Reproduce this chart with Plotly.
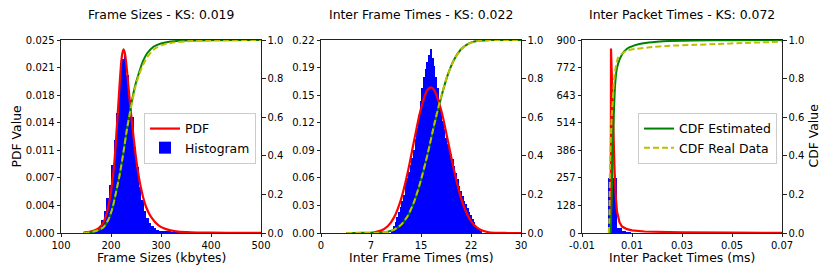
import plotly.graph_objects as go

# ---------------- data ----------------
# Panel 1: Frame Sizes (kbytes)
fs_hist_x = [147.5, 152.5, 157.5, 162.5, 167.5, 172.5, 177.5, 182.5, 187.5, 192.5,
             197.5, 202.5, 207.5, 212.5, 217.5, 222.5, 227.5, 232.5, 237.5, 242.5,
             247.5, 252.5, 257.5, 262.5, 267.5, 272.5, 277.5, 282.5, 287.5, 292.5,
             297.5, 302.5, 307.5, 312.5, 317.5, 322.5, 327.5, 332.5, 337.5, 342.5,
             347.5, 352.5, 357.5, 362.5, 367.5, 372.5, 377.5, 382.5, 387.5, 392.5]
fs_hist_y = [0.00005, 0.0001, 0.00015, 0.0002, 0.0003, 0.0005, 0.0009, 0.0017, 0.0028, 0.0045,
             0.0062, 0.0088, 0.0120, 0.0155, 0.0198, 0.0226, 0.0230, 0.0205, 0.0172, 0.0150,
             0.0112, 0.0085, 0.0060, 0.0043, 0.0029, 0.0019, 0.0013, 0.0009, 0.0006, 0.0004,
             0.0003, 0.0002, 0.0002, 0.00015, 0.00015, 0.0001, 0.0001, 0.0001, 0.00008, 0.0001,
             0.00008, 0.00006, 0.00006, 0.00005, 0.00005, 0.00004, 0.00004, 0.00003, 0.00003, 0.00002]
fs_pdf_x = [145, 160, 175, 185, 195, 205, 212, 218, 222, 225, 228, 232, 238, 245, 252,
            260, 270, 280, 295, 310, 330, 360, 400, 450, 500]
fs_pdf_y = [0.00005, 0.0002, 0.0006, 0.0014, 0.0035, 0.0080, 0.0140, 0.0200, 0.0230, 0.0238,
            0.0232, 0.0210, 0.0168, 0.0125, 0.0088, 0.0058, 0.0034, 0.0021, 0.0010, 0.0005,
            0.0002, 0.0001, 0.00005, 0.00002, 0.00001]
fs_cdf_x = [145, 170, 185, 195, 203, 210, 218, 225, 232, 240, 248, 256, 264, 272, 285,
            300, 320, 350, 400, 500]
fs_cdf_est = [0.0, 0.01, 0.03, 0.07, 0.13, 0.21, 0.31, 0.42, 0.54, 0.66, 0.76, 0.83, 0.89,
              0.93, 0.965, 0.982, 0.992, 0.997, 0.999, 1.0]
fs_cdf_real = [0.0, 0.01, 0.03, 0.07, 0.13, 0.21, 0.31, 0.42, 0.54, 0.65, 0.75, 0.82, 0.87,
               0.91, 0.95, 0.972, 0.985, 0.993, 0.998, 1.0]

# Panel 2: Inter Frame Times (ms)
ift_hist_x = [10.75, 11.0, 11.25, 11.5, 11.75, 12.0, 12.25, 12.5, 12.75, 13.0,
              13.25, 13.5, 13.75, 14.0, 14.25, 14.5, 14.75, 15.0, 15.25, 15.5,
              15.75, 16.0, 16.25, 16.5, 16.75, 17.0, 17.25, 17.5, 17.75, 18.0,
              18.25, 18.5, 18.75, 19.0, 19.25, 19.5, 19.75, 20.0, 20.25, 20.5,
              20.75, 21.0, 21.25, 21.5, 21.75, 22.0, 22.25, 22.5, 22.75, 23.0,
              23.25, 23.5, 23.75, 24.0]
ift_hist_y = [0.003, 0.008, 0.013, 0.018, 0.024, 0.030, 0.036, 0.043, 0.055, 0.063,
              0.070, 0.077, 0.086, 0.095, 0.107, 0.120, 0.135, 0.150, 0.165, 0.178,
              0.187, 0.195, 0.203, 0.210, 0.200, 0.190, 0.178, 0.165, 0.152, 0.140,
              0.128, 0.118, 0.108, 0.101, 0.095, 0.090, 0.084, 0.076, 0.068, 0.061,
              0.054, 0.048, 0.042, 0.037, 0.033, 0.029, 0.024, 0.020, 0.016, 0.012,
              0.008, 0.006, 0.004, 0.002]
ift_pdf_x = [3.8, 6, 8, 9, 10, 11, 12, 13, 14, 15, 16, 16.55, 17, 18, 19, 20, 21, 22,
             23, 24, 25, 26, 28, 30]
ift_pdf_y = [0.0, 0.00005, 0.00085, 0.0027, 0.0076, 0.0184, 0.0384, 0.0689, 0.1065, 0.142,
             0.1635, 0.166, 0.1626, 0.1408, 0.1063, 0.070, 0.040, 0.020, 0.0088, 0.0033,
             0.0011, 0.0003, 0.00002, 0.0]
ift_cdf_x = [3.8, 6, 8, 9, 10, 11, 12, 13, 14, 15, 16, 17, 18, 19, 20, 21, 22, 23, 24,
             25, 26, 28, 30]
ift_cdf_est = [0.0, 0.00003, 0.0006, 0.002, 0.0064, 0.017, 0.041, 0.087, 0.163, 0.273,
               0.41, 0.56, 0.70, 0.818, 0.90, 0.952, 0.979, 0.992, 0.997, 0.999, 1.0, 1.0, 1.0]
ift_cdf_real = [0.0, 0.00003, 0.0006, 0.002, 0.0066, 0.018, 0.042, 0.088, 0.165, 0.275,
                0.41, 0.565, 0.705, 0.82, 0.90, 0.951, 0.978, 0.991, 0.997, 0.999, 1.0, 1.0, 1.0]

# Panel 3: Inter Packet Times (ms)
ipt_hist_x = [0.0014, 0.0032, 0.0050, 0.0068, 0.0086]
ipt_hist_y = [258, 258, 22, 8, 3]
ipt_bin_w = 0.0018
ipt_pdf_x = [0.0015, 0.0016, 0.0020, 0.0025, 0.0030, 0.0035, 0.0040, 0.0050, 0.0060,
             0.0080, 0.0100, 0.0150, 0.0200, 0.0300, 0.0500, 0.0700]
ipt_pdf_y = [0, 860, 700, 470, 300, 170, 100, 50, 30, 18, 12, 7, 5, 3, 1.5, 1]
ipt_est_x = [0.0012, 0.0015, 0.0019, 0.0022, 0.0025, 0.0028, 0.0032, 0.0038, 0.0045,
             0.0060, 0.0080, 0.0110, 0.0145, 0.0200, 0.0250, 0.0350, 0.0500, 0.0700]
ipt_est_y = [0.0, 0.05, 0.17, 0.35, 0.52, 0.64, 0.76, 0.84, 0.88, 0.925, 0.955, 0.972,
             0.983, 0.991, 0.995, 0.998, 0.999, 1.0]
ipt_real_x = [0.0007, 0.0009, 0.0012, 0.0016, 0.0020, 0.0023, 0.0027, 0.0032, 0.0038,
              0.0045, 0.0060, 0.0080, 0.0120, 0.0170, 0.0250, 0.0350, 0.0440, 0.0550, 0.0700]
ipt_real_y = [0.0, 0.05, 0.34, 0.52, 0.63, 0.68, 0.77, 0.836, 0.88, 0.91, 0.93, 0.945,
              0.955, 0.962, 0.97, 0.975, 0.979, 0.985, 0.991]

titles = ["Frame Sizes - KS: 0.019", "Inter Frame Times - KS: 0.022", "Inter Packet Times - KS: 0.072"]
xlabels = ["Frame Sizes (kbytes)", "Inter Frame Times (ms)", "Inter Packet Times (ms)"]
x_tickvals = [[100, 200, 300, 400, 500], [0, 7.5, 15, 22.5, 30], [-0.01, 0.01, 0.03, 0.05, 0.07]]
x_ticktext = [["100", "200", "300", "400", "500"], ["0", "7", "15", "22", "30"],
              ["-0.01", "0.01", "0.03", "0.05", "0.07"]]
x_ranges = [[100, 500], [0, 30], [-0.01, 0.07]]
y_max = [0.025, 0.22, 900]
y_ticktext = [["0.000", "0.004", "0.007", "0.011", "0.014", "0.018", "0.021", "0.025"],
              ["0.00", "0.03", "0.06", "0.09", "0.12", "0.15", "0.19", "0.22"],
              ["0", "128", "257", "386", "514", "643", "772", "900"]]
cdf_ticks = [0, 0.2, 0.4, 0.6, 0.8, 1.0]
cdf_ticktext = ["0.0", "0.2", "0.4", "0.6", "0.8", "1.0"]

# ---------------- layout geometry ----------------
W, H = 830, 277
x_px = [(61, 261), (321, 521), (582, 782)]
y_top, y_bot = 40, 233
ydom = [1 - y_bot / H, 1 - y_top / H]

FONT = "DejaVu Sans"
BLUE, RED, GREEN, YEL = "#0000ff", "#ff0000", "#008000", "#bfbf00"
SPINE = "#222222"

fig = go.Figure()

panels = [
    (fs_hist_x, fs_hist_y, [5] * len(fs_hist_x), fs_pdf_x, fs_pdf_y, "spline",
     fs_cdf_x, fs_cdf_est, fs_cdf_x, fs_cdf_real, "spline"),
    (ift_hist_x, ift_hist_y, [0.25] * len(ift_hist_x), ift_pdf_x, ift_pdf_y, "spline",
     ift_cdf_x, ift_cdf_est, ift_cdf_x, ift_cdf_real, "spline"),
    (ipt_hist_x, ipt_hist_y, [ipt_bin_w] * len(ipt_hist_x), ipt_pdf_x, ipt_pdf_y, "linear",
     ipt_est_x, ipt_est_y, ipt_real_x, ipt_real_y, "spline"),
]

for i, (hx, hy, hw, px, py, pshape, cx1, cy1, cx2, cy2, cshape) in enumerate(panels):
    xa = "x" if i == 0 else f"x{i + 1}"
    ya = "y" if i == 0 else f"y{2 * i + 1}"
    ya2 = f"y{2 * i + 2}"
    fig.add_trace(go.Bar(x=hx, y=hy, width=hw, marker=dict(color=BLUE, line=dict(width=0)),
                         name="Histogram", xaxis=xa, yaxis=ya, showlegend=(i == 0),
                         legend="legend", legendrank=2))
    fig.add_trace(go.Scatter(x=px, y=py, mode="lines", line=dict(color=RED, width=2.2, shape=pshape),
                             name="PDF", xaxis=xa, yaxis=ya, showlegend=(i == 0),
                             legend="legend", legendrank=1))
    fig.add_trace(go.Scatter(x=cx1, y=cy1, mode="lines",
                             line=dict(color=GREEN, width=2, shape=cshape, smoothing=0.5),
                             name="CDF Estimated", xaxis=xa, yaxis=ya2, showlegend=(i == 2),
                             legend="legend2", legendrank=1))
    fig.add_trace(go.Scatter(x=cx2, y=cy2, mode="lines",
                             line=dict(color=YEL, width=2, dash="6px,3px", shape=cshape, smoothing=0.5),
                             name="CDF Real Data", xaxis=xa, yaxis=ya2, showlegend=(i == 2),
                             legend="legend2", legendrank=2))

axis_common = dict(showgrid=False, zeroline=False, showline=True, linecolor=SPINE, linewidth=1,
                   ticks="outside", ticklen=3.5, tickwidth=1, tickcolor=SPINE, automargin=False,
                   tickfont=dict(family=FONT, size=10, color="black"), fixedrange=True)

layout = dict(width=W, height=H, margin=dict(l=0, r=0, t=0, b=0, autoexpand=False),
              paper_bgcolor="white", plot_bgcolor="white", barmode="overlay", bargap=0,
              font=dict(family=FONT, color="black"))

for i in range(3):
    xk = "xaxis" if i == 0 else f"xaxis{i + 1}"
    yk = "yaxis" if i == 0 else f"yaxis{2 * i + 1}"
    yk2 = f"yaxis{2 * i + 2}"
    ya = "y" if i == 0 else f"y{2 * i + 1}"
    xa = "x" if i == 0 else f"x{i + 1}"
    x0, x1 = x_px[i]
    layout[xk] = dict(axis_common, domain=[x0 / W, x1 / W], range=x_ranges[i], anchor=ya,
                      tickvals=x_tickvals[i], ticktext=x_ticktext[i], mirror=True, ticklen=3)
    ytv = [y_max[i] * k / 7 for k in range(8)]
    layout[yk] = dict(axis_common, domain=ydom, range=[0, y_max[i]], anchor=xa,
                      tickvals=ytv, ticktext=y_ticktext[i])
    layout[yk2] = dict(axis_common, range=[0, 1], anchor=xa, overlaying=ya, side="right",
                       tickvals=cdf_ticks, ticktext=cdf_ticktext)

legend_common = dict(bgcolor="rgba(255,255,255,0.85)", bordercolor="#cccccc", borderwidth=1,
                     font=dict(family=FONT, size=12.4, color="black"), xref="paper", yref="paper",
                     xanchor="left", yanchor="top", itemwidth=30, traceorder="normal",
                     tracegroupgap=0)
layout["legend"] = dict(legend_common, x=144 / W, y=1 - 113 / H)
layout["legend2"] = dict(legend_common, x=638 / W, y=1 - 113 / H)

annotations = []
for i in range(3):
    x0, x1 = x_px[i]
    cx = (x0 + x1) / 2 / W
    annotations.append(dict(text=titles[i], x=cx, y=1 - 15 / H, xref="paper", yref="paper",
                            showarrow=False, xanchor="center", yanchor="middle",
                            font=dict(family=FONT, size=12.4, color="black")))
    annotations.append(dict(text=xlabels[i], x=cx, y=1 - 257 / H, xref="paper", yref="paper",
                            showarrow=False, xanchor="center", yanchor="middle",
                            font=dict(family=FONT, size=12.4, color="black")))
annotations.append(dict(text="PDF Value", x=16 / W, y=1 - 136.5 / H, xref="paper", yref="paper",
                        showarrow=False, xanchor="center", yanchor="middle", textangle=-90,
                        font=dict(family=FONT, size=12.4, color="black")))
annotations.append(dict(text="CDF Value", x=813 / W, y=1 - 136.5 / H, xref="paper", yref="paper",
                        showarrow=False, xanchor="center", yanchor="middle", textangle=-90,
                        font=dict(family=FONT, size=12.4, color="black")))
layout["annotations"] = annotations

fig.update_layout(**layout)
fig.write_html("out.html", config={"displayModeBar": False},
               post_script="document.body.style.margin='0';document.body.style.padding='0';"
                           "document.body.style.overflow='hidden';")
